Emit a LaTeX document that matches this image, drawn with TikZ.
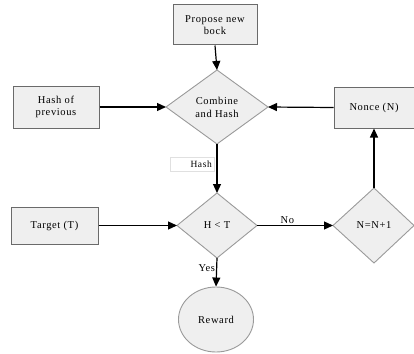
\documentclass[tikz,border=0pt]{standalone}
\usepackage{fontspec}
\setmainfont{Liberation Serif}[LetterSpace=6]
\usetikzlibrary{shapes.geometric,arrows.meta}
\definecolor{boxfill}{HTML}{EFEFEF}
\definecolor{boxline}{HTML}{6A6A6A}
\definecolor{diaLine}{HTML}{9A9A9A}
\begin{document}
\begin{tikzpicture}[x=1pt,y=-1pt,
  font=\fontsize{10.5}{12}\selectfont,
  boxnode/.style={draw=boxline,fill=boxfill,line width=1pt,inner sep=0pt,align=center},
  decide/.style={draw=diaLine,fill=boxfill,line width=0.9pt,inner sep=0pt,align=center},
  link/.style={line width=1.2pt,-{Triangle[length=9pt,width=8pt]}}]
\useasboundingbox (0,0) rectangle (414,353);
\node[boxnode,minimum width=84pt,minimum height=40pt] (prop) at (215,25) {Propose new\\bock};
\node[boxnode,minimum width=86pt,minimum height=42pt] (prev) at (56,107) {Hash of\\previous};
\node[boxnode,minimum width=80pt,minimum height=41pt] (nonce) at (374,107.5) {Nonce (N)};
\node[boxnode,minimum width=87pt,minimum height=37pt] (targ) at (54.5,225.5) {Target (T)};
\path[decide] (217,70) coordinate (ct) -- (268,107) coordinate (cr) -- (217,144) coordinate (cb) -- (166,107) coordinate (cl) -- cycle;
\node[align=center] (comb) at (217,107) {Combine\\[1pt]and Hash};
\path[decide] (217,193) coordinate (ht) -- (257,225.5) coordinate (hr) -- (217,258) coordinate (hb) -- (177,225.5) coordinate (hl) -- cycle;
\node (hlt) at (217,225.5) {H < T};
\path[decide] (374,188) coordinate (nt) -- (414,225.5) coordinate (nr) -- (374,263) coordinate (nb) -- (333,225.5) coordinate (nl) -- cycle;
\node (inc) at (374,225.5) {N=N+1};
\node[draw=black!12,fill=white,minimum width=44pt,minimum height=14pt,inner sep=1pt,anchor=east,font=\fontsize{9.5}{10}\selectfont,align=right,text width=40pt] (hashlab) at (214,164) {Hash};
\node[draw=diaLine,fill=boxfill,line width=0.9pt,ellipse,minimum width=75pt,minimum height=65pt,inner sep=0pt] (rew) at (216,319.5) {Reward};
\draw[link] (prop.south) -- (ct);
\draw[link] (prev.east) -- (cl);
\draw[link] (nonce.west) -- (cr);
\draw[link] (cb) -- (ht);
\draw[link] (targ.east) -- (hl);
\draw[link] (hr) -- node[above,pos=0.4,inner sep=1pt] (nolab) {No} (nl);
\draw[link] (nt) -- (nonce.south -| nt);
\draw[link] (hb) -- node[left,pos=0.35,inner sep=1pt] (yeslab) {Yes} (rew.north);
\end{tikzpicture}
\end{document}
